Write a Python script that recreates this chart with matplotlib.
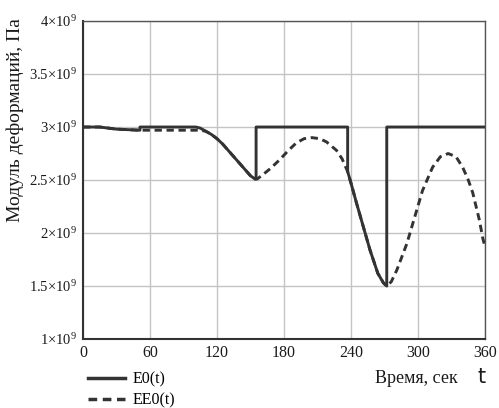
import matplotlib
matplotlib.use("Agg")
import matplotlib.pyplot as plt
from matplotlib.lines import Line2D

# E0(t) - solid step curve, values in units of 1e9 Pa
e0_t = [0, 15, 30, 51, 51, 101, 105, 110, 115, 120, 125, 130, 135, 140, 145, 150, 154, 155, 155,
        237, 237, 240, 245, 251, 257, 264, 269, 272, 272, 360]
e0_v = [3.0, 3.0, 2.98, 2.97, 3.0, 3.0, 2.99, 2.96, 2.93, 2.89, 2.84, 2.78, 2.72, 2.66, 2.60,
        2.54, 2.51, 2.51, 3.0, 3.0, 2.58, 2.47, 2.28, 2.06, 1.84, 1.62, 1.53, 1.5, 3.0, 3.0]

# EE0(t) - dashed curve
ee0_t = [0, 15, 30, 50, 75, 100, 105, 110, 115, 120, 125, 130, 135, 140, 145, 150, 154, 156,
         161, 168, 176, 184, 191, 198, 205, 212, 218, 227, 232, 237, 240, 245, 251, 257, 264,
         269, 272, 276, 281, 290, 297, 304, 313, 320, 327, 334, 340, 345, 349, 355, 358, 360]
ee0_v = [3.0, 3.0, 2.98, 2.97, 2.97, 2.97, 2.97, 2.96, 2.93, 2.89, 2.84, 2.78, 2.72, 2.66,
         2.60, 2.54, 2.51, 2.51, 2.55, 2.61, 2.69, 2.78, 2.85, 2.89, 2.90, 2.89, 2.86, 2.78,
         2.70, 2.58, 2.47, 2.28, 2.06, 1.84, 1.62, 1.53, 1.5, 1.54, 1.65, 1.9, 2.15, 2.4, 2.62,
         2.72, 2.75, 2.72, 2.62, 2.5, 2.38, 2.12, 1.95, 1.87]

x_ticks = [0, 60, 120, 180, 240, 300, 360]
y_ticks = [1.0, 1.5, 2.0, 2.5, 3.0, 3.5, 4.0]
y_labels = ["1", "1.5", "2", "2.5", "3", "3.5", "4"]

plt.rcParams["mathtext.fontset"] = "stix"
plt.rcParams["font.family"] = ["Liberation Serif", "DejaVu Serif"]

fig = plt.figure(figsize=(4.99, 4.08), dpi=100)
ax = fig.add_axes([0.1663, 0.169, 0.8057, 0.7795])

line_col = "#333333"
dash = (0, (2.5, 1.6))
ax.plot(ee0_t, ee0_v, color=line_col, lw=2.1, ls=dash, zorder=3)
ax.plot(e0_t, e0_v, color=line_col, lw=2.1, zorder=4)

ax.set_xlim(0, 360)
ax.set_ylim(1.0, 4.0)
ax.set_xticks(x_ticks)
ax.set_yticks(y_ticks)
ax.set_xticklabels([str(v) for v in x_ticks], fontsize=11.5)
ax.set_yticklabels([r"$\mathregular{%s{\times}10^{9}}$" % s for s in y_labels], fontsize=10.5)
ax.tick_params(length=0, pad=4, colors="#1a1a1a")
ax.grid(True, color="#c4c4c4", lw=1.0)
ax.set_axisbelow(True)
for side in ["top", "right"]:
    ax.spines[side].set_color("#555555")
    ax.spines[side].set_linewidth(1.0)
for side in ["left", "bottom"]:
    ax.spines[side].set_color("#333333")
    ax.spines[side].set_linewidth(1.5)

fig.text(0.03, 0.706, "Модуль деформаций, Па", rotation=90, fontsize=14,
         ha="center", va="center", color="#1a1a1a")
fig.text(0.917, 0.073, "Время, сек", fontsize=13, ha="right", va="center", color="#1a1a1a")
fig.text(0.966, 0.075, "t", fontsize=15, family="DejaVu Sans", ha="center", va="center",
         color="#1a1a1a")

handles = [Line2D([], [], color=line_col, lw=2.5),
           Line2D([], [], color=line_col, lw=2.5, ls=dash)]
fig.legend(handles, ["E0(t)", "EE0(t)"], loc="upper left", bbox_to_anchor=(0.158, 0.113),
           frameon=False, fontsize=11.5, handlelength=2.3, handletextpad=0.45,
           labelspacing=0.3, borderpad=0.1)

fig.savefig("out.png", dpi=100)
